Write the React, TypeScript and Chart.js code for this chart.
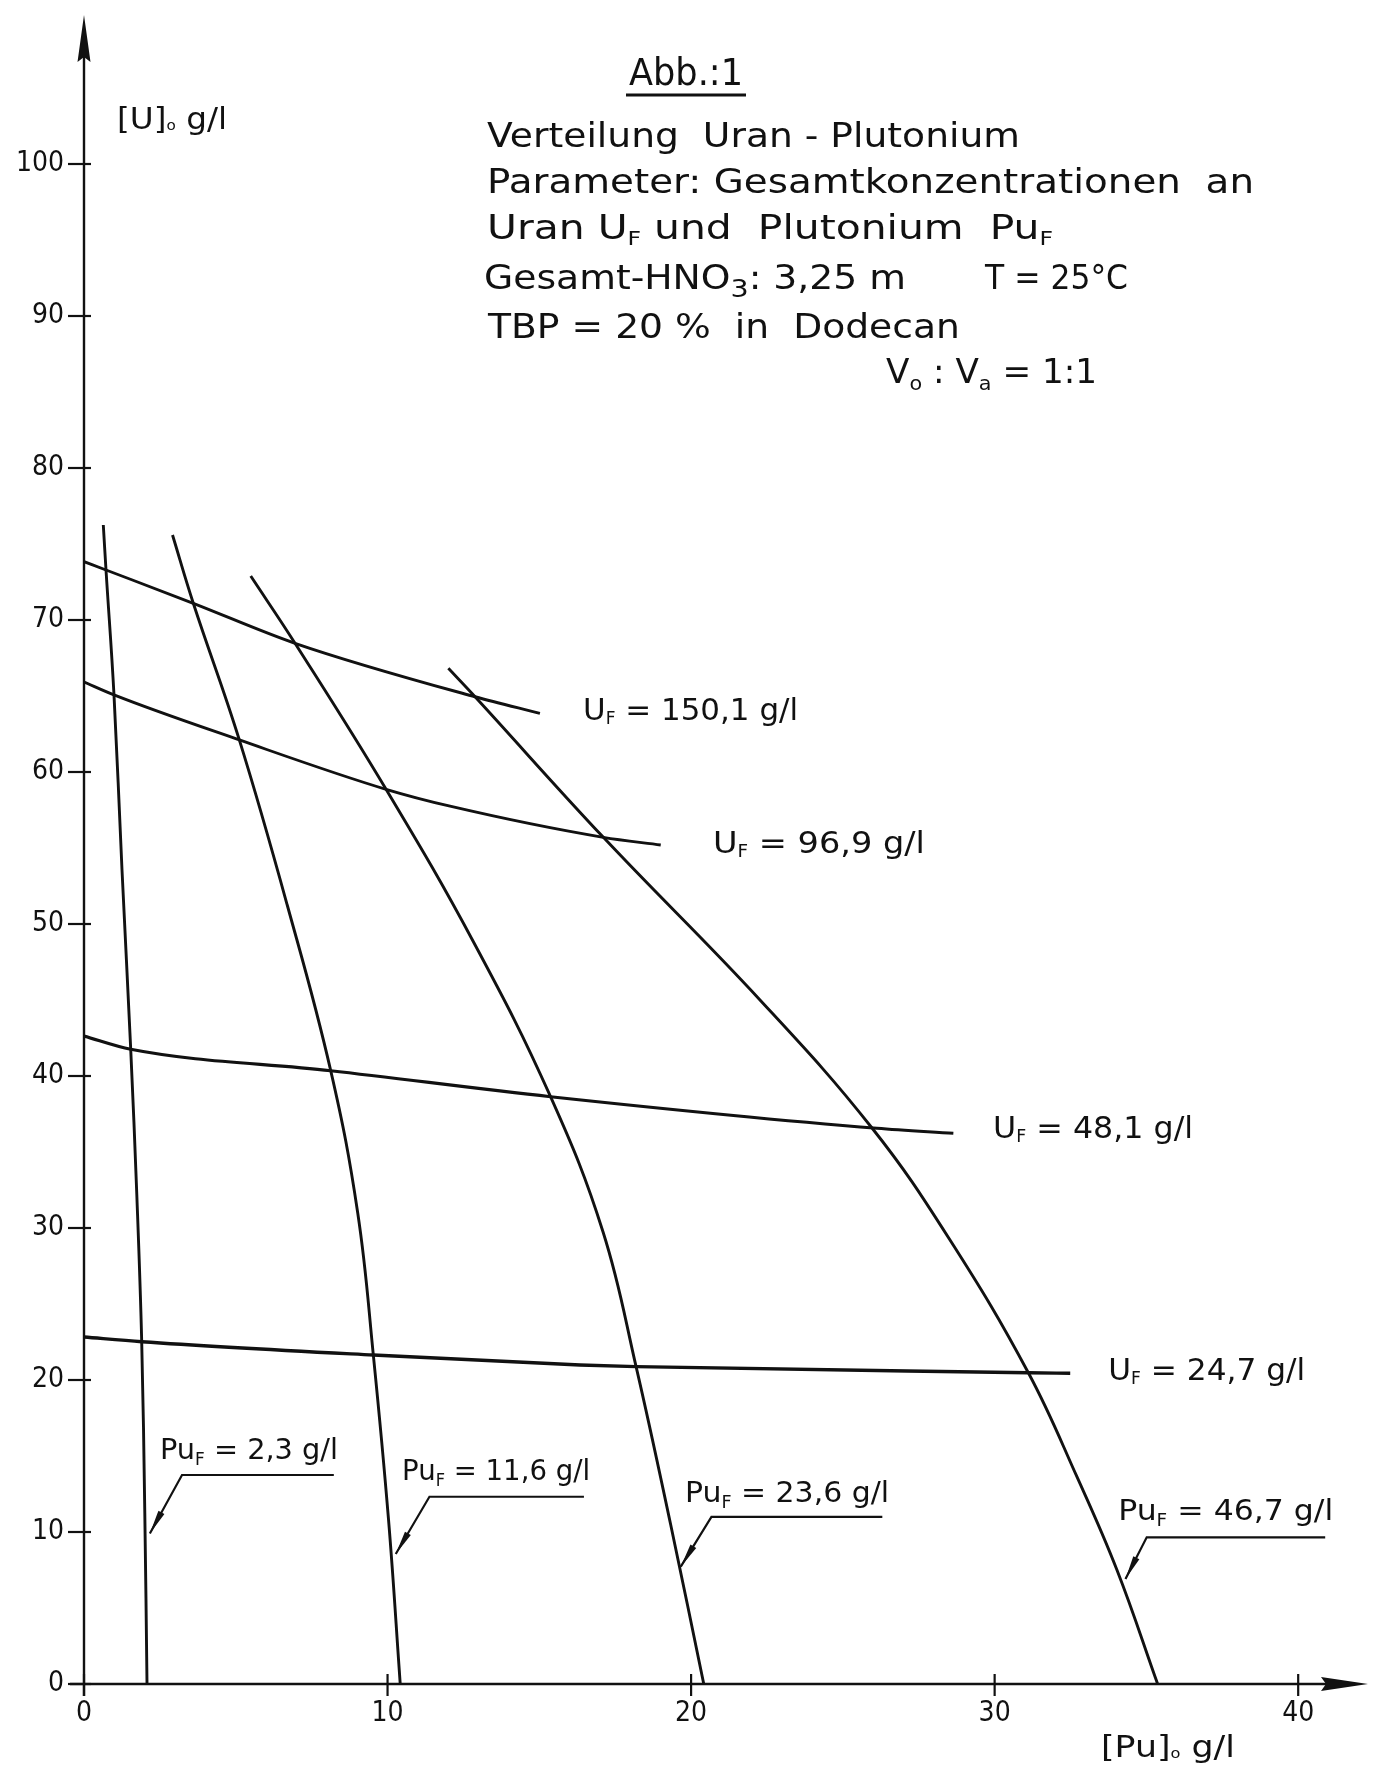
import React, { useEffect, useRef } from "react";
import { Chart, registerables } from "chart.js";

Chart.register(...registerables);

// ---------- data ----------
const X_TICKS = [0, 10, 20, 30, 40];
const Y_TICKS = [0, 10, 20, 30, 40, 50, 60, 70, 80, 90, 100];

// Pu_F curves : [Pu]o (g/l), [U]o (g/l)
const PU_2_3: [number, number][] = [[0.636, 76.25], [0.725, 73.29], [0.988, 65.07], [1.252, 53.55], [1.539, 41.76], [1.74, 32.17], [1.901, 22.52], [2.003, 11.25], [2.076, 0]];
const PU_11_6: [number, number][] = [[2.916, 75.59], [3.601, 71.1], [5.117, 62.11], [6.695, 51.25], [8.128, 40.35], [9.018, 30.99], [9.532, 21.64], [10.033, 10.79], [10.418, 0]];
const PU_23_6: [number, number][] = [[5.493, 72.89], [6.952, 68.47], [9.951, 58.86], [12.85, 48.75], [15.37, 38.64], [17.1, 29.74], [18.188, 20.88], [19.33, 10.46], [20.418, 0]];
const PU_46_7: [number, number][] = [[12.003, 66.82], [12.883, 64.95], [17.11, 55.7], [22.27, 45.0], [25.96, 36.58], [28.53, 29.21], [31.11, 20.48], [32.71, 13.64], [34.03, 7.5], [35.37, 0]];

// U_F curves
const UF_150_1: [number, number][] = [[0, 73.84], [0.725, 73.29], [3.601, 71.1], [6.952, 68.47], [12.883, 64.95], [15.02, 63.86]];
const UF_96_9: [number, number][] = [[0, 65.92], [0.988, 65.07], [5.117, 62.11], [9.951, 58.86], [12.059, 57.75], [17.11, 55.7], [19.0, 55.2]];
const UF_48_1: [number, number][] = [[0, 42.63], [1.539, 41.76], [8.128, 40.35], [15.37, 38.64], [26.12, 36.56], [28.64, 36.23]];
const UF_24_7: [number, number][] = [[0, 22.83], [1.901, 22.52], [9.532, 21.64], [16.34, 20.99], [18.188, 20.88], [31.11, 20.48], [32.49, 20.44]];

const UF_VALUES = ["150,1", "96,9", "48,1", "24,7"];
const PU_VALUES = ["2,3", "11,6", "23,6", "46,7"];

// ---------- layout / style config ----------
const INK = "#111111";
const FONT = "'DejaVu Sans', sans-serif";
const TICK_FONT = "'DejaVu Sans Condensed', 'DejaVu Sans', sans-serif";

// curve labels: left / baseline anchor in data units, target width in px
const UF_LABEL_POS = [
  { x: 16.44, y: 63.42, w: 215 },
  { x: 20.72, y: 54.67, w: 212 },
  { x: 29.95, y: 35.92, w: 200 },
  { x: 33.74, y: 20.0, w: 197 },
];
const PU_LABEL_POS = [
  { x: 2.504, y: 14.8, w: 178 },
  { x: 10.48, y: 13.42, w: 188 },
  { x: 19.8, y: 11.97, w: 204 },
  { x: 34.07, y: 10.79, w: 215 },
];
// leader lines for the Pu labels (data units)
const LEADERS = [
  { hx1: 3.229, hx2: 8.23, hy: 13.75, tx: 2.17, ty: 9.9 },
  { hx1: 11.38, hx2: 16.47, hy: 12.32, tx: 10.27, ty: 8.55 },
  { hx1: 20.67, hx2: 26.3, hy: 11.0, tx: 19.66, ty: 7.72 },
  { hx1: 35.01, hx2: 40.89, hy: 9.65, tx: 34.31, ty: 6.9 },
];

type Line = { text: string; x: number; y: number; w: number; size: number; subScale?: number; subOff?: number; underline?: boolean };
const TITLE_LINES: Line[] = [
  { text: "Abb.:1", x: 629, y: 85, w: 114, size: 37, underline: true },
  { text: "Verteilung  Uran - Plutonium", x: 487, y: 147, w: 533, size: 33 },
  { text: "Parameter: Gesamtkonzentrationen  an", x: 487, y: 193, w: 767, size: 33 },
  { text: "Uran U{F} und  Plutonium  Pu{F}", x: 487, y: 239, w: 566, size: 33 },
  { text: "Gesamt-HNO{3}: 3,25 m", x: 484, y: 289, w: 422, size: 33, subScale: 0.75, subOff: 0.24 },
  { text: "T = 25°C", x: 985, y: 289, w: 143, size: 33 },
  { text: "TBP = 20 %  in  Dodecan", x: 488, y: 338, w: 472, size: 33 },
  { text: "V{o} : V{a} = 1:1", x: 886, y: 383, w: 211, size: 33, subScale: 0.6, subOff: 0.2 },
];
const AXIS_TITLES: Line[] = [
  { text: "[U]{o} g/l", x: 117, y: 129, w: 110, size: 30, subScale: 0.45, subOff: 0.03 },
  { text: "[Pu]{o} g/l", x: 1101, y: 1757, w: 134, size: 30, subScale: 0.45, subOff: 0.03 },
];

function drawRich(ctx: CanvasRenderingContext2D, text: string, x: number, y: number, size: number, w?: number, subScale = 0.58, subOff = 0.18) {
  const parts = text.split(/(\{[^}]*\})/).filter((p) => p.length > 0).map((p) =>
    p.startsWith("{") ? { t: p.slice(1, -1), sub: true } : { t: p, sub: false }
  );
  const mainFont = `${size}px ${FONT}`;
  const subFont = `${Math.round(size * subScale)}px ${FONT}`;
  let total = 0;
  for (const p of parts) {
    ctx.font = p.sub ? subFont : mainFont;
    total += ctx.measureText(p.t).width;
  }
  const sx = w ? w / total : 1;
  ctx.save();
  ctx.translate(x, y);
  ctx.scale(sx, 1);
  ctx.textAlign = "left";
  ctx.textBaseline = "alphabetic";
  let cx = 0;
  for (const p of parts) {
    ctx.font = p.sub ? subFont : mainFont;
    ctx.fillText(p.t, cx, p.sub ? size * subOff : 0);
    cx += ctx.measureText(p.t).width;
  }
  ctx.restore();
}

const overlayPlugin = {
  id: "overlay",
  afterDraw(chart: any) {
    const ctx: CanvasRenderingContext2D = chart.ctx;
    const xs = chart.scales.x;
    const ys = chart.scales.y;
    const X = (v: number) => xs.getPixelForValue(v);
    const Y = (v: number) => ys.getPixelForValue(v);
    const area = chart.chartArea;
    ctx.save();
    ctx.strokeStyle = INK;
    ctx.fillStyle = INK;
    ctx.lineCap = "butt";

    const x0 = X(0);
    const y0 = Y(0);
    // axes
    ctx.lineWidth = 2.4;
    ctx.beginPath();
    ctx.moveTo(x0, y0 + 12);
    ctx.lineTo(x0, area.top + 40);
    ctx.stroke();
    ctx.beginPath();
    ctx.moveTo(x0 - 14, y0);
    ctx.lineTo(area.right - 40, y0);
    ctx.stroke();
    // arrow heads
    const tipY = area.top + 3;
    ctx.beginPath();
    ctx.moveTo(x0, tipY);
    ctx.lineTo(x0 + 6.5, tipY + 47);
    ctx.lineTo(x0, tipY + 42);
    ctx.lineTo(x0 - 6.5, tipY + 47);
    ctx.closePath();
    ctx.fill();
    const tipX = area.right;
    ctx.beginPath();
    ctx.moveTo(tipX, y0);
    ctx.lineTo(tipX - 47, y0 - 7);
    ctx.lineTo(tipX - 42, y0);
    ctx.lineTo(tipX - 47, y0 + 7);
    ctx.closePath();
    ctx.fill();

    // crossing tick marks
    ctx.lineWidth = 2.2;
    for (const v of Y_TICKS) {
      const py = Y(v);
      ctx.beginPath();
      ctx.moveTo(x0 - 16, py);
      ctx.lineTo(x0 + 7, py);
      ctx.stroke();
    }
    for (const v of X_TICKS) {
      const px = X(v);
      ctx.beginPath();
      ctx.moveTo(px, y0 - 10);
      ctx.lineTo(px, y0 + 12);
      ctx.stroke();
    }

    // leaders
    for (const L of LEADERS) {
      ctx.lineWidth = 2.2;
      const ax = X(L.tx), ay = Y(L.ty);
      const bx = X(L.hx1), by = Y(L.hy);
      ctx.beginPath();
      ctx.moveTo(X(L.hx2), by);
      ctx.lineTo(bx, by);
      ctx.lineTo(ax, ay);
      ctx.stroke();
      const ang = Math.atan2(ay - by, ax - bx);
      const c = Math.cos(ang), s = Math.sin(ang);
      const len = 24, hw = 3.4;
      ctx.beginPath();
      ctx.moveTo(ax, ay);
      ctx.lineTo(ax - len * c + hw * s, ay - len * s - hw * c);
      ctx.lineTo(ax - len * c - hw * s, ay - len * s + hw * c);
      ctx.closePath();
      ctx.fill();
    }

    // curve labels
    UF_VALUES.forEach((val, i) => {
      const p = UF_LABEL_POS[i];
      drawRich(ctx, `U{F} = ${val} g/l`, X(p.x), Y(p.y), 31, p.w, 0.56, 0.14);
    });
    PU_VALUES.forEach((val, i) => {
      const p = PU_LABEL_POS[i];
      drawRich(ctx, `Pu{F} = ${val} g/l`, X(p.x), Y(p.y), 29, p.w, 0.58, 0.2);
    });

    // title block
    for (const l of TITLE_LINES) {
      drawRich(ctx, l.text, l.x, l.y, l.size, l.w, l.subScale ?? 0.58, l.subOff ?? 0.18);
      if (l.underline) {
        ctx.lineWidth = 3;
        ctx.beginPath();
        ctx.moveTo(l.x - 3, l.y + 10);
        ctx.lineTo(l.x + l.w + 3, l.y + 10);
        ctx.stroke();
      }
    }
    for (const l of AXIS_TITLES) {
      drawRich(ctx, l.text, l.x, l.y, l.size, l.w, l.subScale ?? 0.58, l.subOff ?? 0.18);
    }
    ctx.restore();
  },
};

const toPts = (arr: [number, number][]) => arr.map(([x, y]) => ({ x, y }));

export default function App() {
  const ref = useRef<HTMLCanvasElement | null>(null);
  useEffect(() => {
    if (!ref.current) return;
    // U_F curves: monotone along x; Pu_F curves are steep, so a parametric spline (tension) is used
    const curve = (label: string, data: [number, number][], steep: boolean, width = 2.9) => ({
      label,
      data: toPts(data),
      showLine: true,
      borderColor: INK,
      borderWidth: width,
      pointRadius: 0,
      pointHoverRadius: 0,
      ...(steep ? { tension: 0.4, cubicInterpolationMode: "default" } : { cubicInterpolationMode: "monotone" }),
      fill: false,
    });
    const chart = new Chart(ref.current, {
      type: "scatter",
      data: {
        datasets: [
          curve("PuF = 2,3 g/l", PU_2_3, true),
          curve("PuF = 11,6 g/l", PU_11_6, true),
          curve("PuF = 23,6 g/l", PU_23_6, true),
          curve("PuF = 46,7 g/l", PU_46_7, true),
          curve("UF = 150,1 g/l", UF_150_1, false),
          curve("UF = 96,9 g/l", UF_96_9, false),
          curve("UF = 48,1 g/l", UF_48_1, false, 3.1),
          curve("UF = 24,7 g/l", UF_24_7, false, 3.4),
        ],
      },
      options: {
        responsive: false,
        animation: false,
        devicePixelRatio: 1,
        layout: { padding: { left: 0, right: 5, top: 12, bottom: 0 } },
        plugins: { legend: { display: false }, tooltip: { enabled: false }, title: { display: false } },
        events: [],
        scales: {
          x: {
            type: "linear",
            min: 0,
            max: 42.3,
            grid: { display: false, drawTicks: false },
            border: { display: false },
            afterBuildTicks: (scale: any) => {
              scale.ticks = X_TICKS.map((v) => ({ value: v }));
            },
            afterFit: (scale: any) => {
              scale.height = 81;
              scale.paddingLeft = 0;
              scale.paddingRight = 0;
            },
            ticks: { color: INK, padding: 13, font: { family: TICK_FONT, size: 28 }, maxRotation: 0, autoSkip: false },
          },
          y: {
            type: "linear",
            min: 0,
            max: 110,
            grid: { display: false, drawTicks: false },
            border: { display: false },
            afterBuildTicks: (scale: any) => {
              scale.ticks = Y_TICKS.map((v) => ({ value: v }));
            },
            afterFit: (scale: any) => {
              scale.width = 84;
              scale.paddingTop = 0;
              scale.paddingBottom = 0;
            },
            ticks: { color: INK, padding: 20, font: { family: TICK_FONT, size: 28 }, autoSkip: false },
          },
        },
      },
      plugins: [overlayPlugin],
    } as any);
    return () => chart.destroy();
  }, []);

  return (
    <div style={{ position: "absolute", left: 0, top: 0, width: 1373, height: 1765, background: "#ffffff" }}>
      <canvas ref={ref} width={1373} height={1765} style={{ display: "block", width: 1373, height: 1765 }} />
    </div>
  );
}
